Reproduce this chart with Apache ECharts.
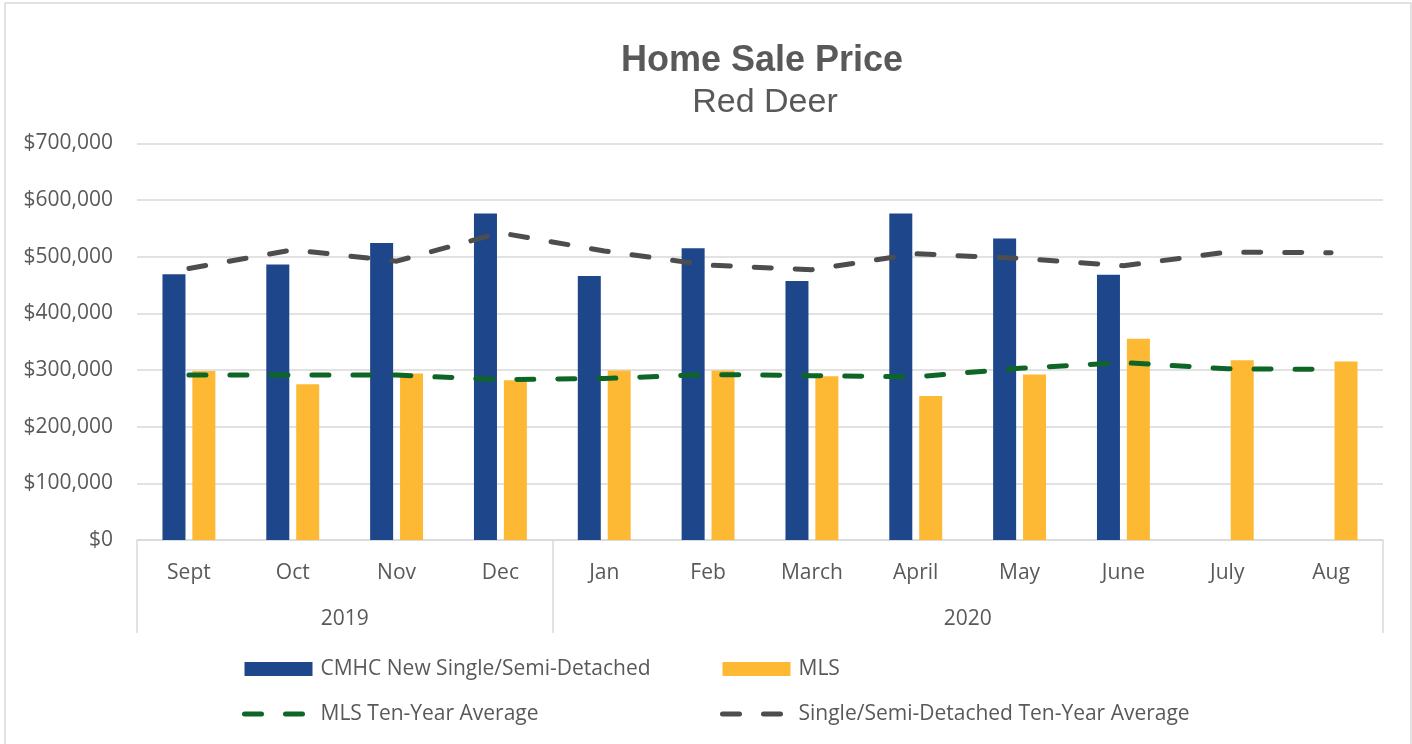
<!DOCTYPE html>
<html>
<head>
<meta charset="utf-8">
<script src="https://cdn.jsdelivr.net/npm/echarts@6/dist/echarts.min.js"></script>
<style>
  html, body { margin: 0; padding: 0; background: #fff; }
  #chart { width: 1412px; height: 744px; }
</style>
</head>
<body>
<div id="chart"></div>
<script>
var months = ['Sept', 'Oct', 'Nov', 'Dec', 'Jan', 'Feb', 'March', 'April', 'May', 'June', 'July', 'Aug'];
var years = ['2019', '2020'];
var cmhcNew = [469000, 486000, 524000, 576000, 466000, 515000, 457000, 576000, 532000, 468000, null, null];
var mls = [298000, 275000, 294000, 282000, 299000, 299000, 289000, 254000, 292000, 355000, 317000, 315000];
var mlsAvg = [291000, 291000, 291000, 283000, 285000, 292000, 290000, 288000, 303000, 313000, 302000, 301000];
var singleAvg = [479000, 512000, 492000, 542000, 510000, 485000, 477000, 505000, 497000, 484000, 508000, 507000];

var textColor = '#595959';
var gridColor = '#D9D9D9';
var axisFont = 'Open Sans';

var myChart = echarts.init(document.getElementById('chart'));

// legend text style, shared by both columns
var legendText = { fontFamily: axisFont, fontSize: 21, color: textColor, lineHeight: 24, padding: [0, 0, 0, 3] };
var dashIcon = { width: 5, type: [17, 24], cap: 'round' };

var option = {
    backgroundColor: '#fff',
    animation: false,
    title: [
        {
            text: 'Home Sale Price',
            left: 757,
            top: 36,
            textAlign: 'center',
            textStyle: { fontFamily: 'Liberation Sans', fontSize: 36, fontWeight: 'bold', color: textColor, lineHeight: 40 }
        },
        {
            text: 'Red Deer',
            left: 760,
            top: 78,
            textAlign: 'center',
            textStyle: { fontFamily: 'Liberation Sans', fontSize: 34, fontWeight: 'normal', color: textColor, lineHeight: 40 }
        }
    ],
    graphic: [
        {
            type: 'rect',
            shape: { x: 5, y: 3, width: 1406, height: 780 },
            style: { fill: 'none', stroke: gridColor, lineWidth: 1.5 },
            silent: true
        }
    ],
    // two columns of legend, stacked vertically
    legend: [
        {
            orient: 'vertical',
            left: 242,
            top: 657,
            padding: 0,
            itemWidth: 68,
            itemHeight: 14,
            itemGap: 21,
            textStyle: legendText,
            data: [
                { name: 'CMHC New Single/Semi-Detached', icon: 'rect' },
                { name: 'MLS Ten-Year Average', lineStyle: dashIcon, itemStyle: { opacity: 0 } }
            ]
        },
        {
            orient: 'vertical',
            left: 720,
            top: 657,
            padding: 0,
            itemWidth: 68,
            itemHeight: 14,
            itemGap: 21,
            textStyle: legendText,
            data: [
                { name: 'MLS', icon: 'rect' },
                { name: 'Single/Semi-Detached Ten-Year Average', lineStyle: dashIcon, itemStyle: { opacity: 0 } }
            ]
        }
    ],
    grid: {
        left: 137,
        right: 29,
        top: 143.3,
        bottom: 204,
        containLabel: false
    },
    xAxis: [
        {
            type: 'category',
            data: months,
            axisLine: { show: true, lineStyle: { color: gridColor, width: 1.5 } },
            axisTick: { show: false },
            axisLabel: { margin: 21, fontFamily: axisFont, fontSize: 21, color: textColor, lineHeight: 24 }
        },
        {
            // second level: year groups with dividers
            type: 'value',
            position: 'bottom',
            min: 0,
            max: 12,
            interval: 1,
            splitLine: { show: false },
            axisLine: { show: false },
            axisTick: {
                show: true,
                customValues: [0, 4, 12],
                length: 93,
                lineStyle: { color: gridColor, width: 1.5 }
            },
            axisLabel: {
                customValues: [2, 8],
                margin: 67,
                fontFamily: axisFont,
                fontSize: 21,
                color: textColor,
                lineHeight: 24,
                formatter: function (v) {
                    return v === 2 ? years[0] : (v === 8 ? years[1] : '');
                }
            }
        }
    ],
    yAxis: {
        type: 'value',
        min: 0,
        max: 700000,
        interval: 100000,
        axisLine: { show: false },
        axisTick: { show: false },
        splitLine: { lineStyle: { color: gridColor, width: 1.5 } },
        axisLabel: {
            margin: 24,
            fontFamily: axisFont,
            fontSize: 21,
            color: textColor,
            formatter: function (v) {
                return '$' + v.toLocaleString('en-US');
            }
        }
    },
    series: [
        {
            name: 'CMHC New Single/Semi-Detached',
            type: 'bar',
            barWidth: 23,
            barGap: '30%',
            itemStyle: { color: '#1D478A' },
            data: cmhcNew
        },
        {
            name: 'MLS',
            type: 'bar',
            barWidth: 23,
            barGap: '30%',
            itemStyle: { color: '#FDB933' },
            data: mls
        },
        {
            name: 'MLS Ten-Year Average',
            type: 'line',
            symbol: 'none',
            z: 5,
            itemStyle: { color: '#0E6626' },
            lineStyle: { color: '#0E6626', width: 5, type: [17, 24], cap: 'round' },
            data: mlsAvg
        },
        {
            name: 'Single/Semi-Detached Ten-Year Average',
            type: 'line',
            symbol: 'none',
            z: 5,
            itemStyle: { color: '#4D4D4D' },
            lineStyle: { color: '#4D4D4D', width: 5, type: [17, 24], cap: 'round' },
            data: singleAvg
        }
    ]
};

myChart.setOption(option);
</script>
</body>
</html>
